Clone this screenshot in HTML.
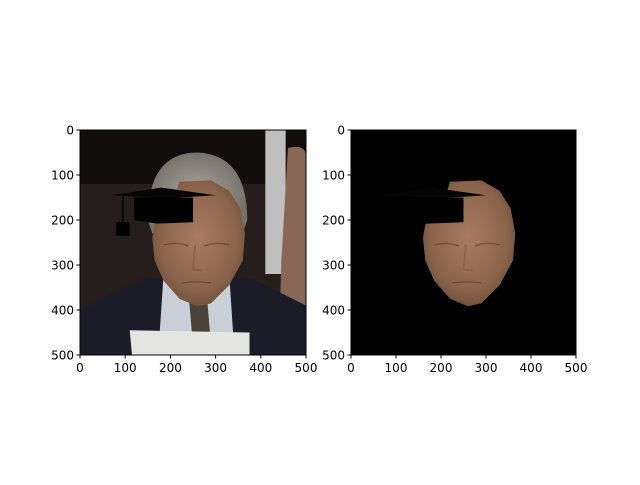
<!DOCTYPE html>
<html><head><meta charset="utf-8"><style>
body{margin:0;background:#fff;width:640px;height:480px;overflow:hidden;font-family:"Liberation Sans","DejaVu Sans",sans-serif}
text{font-family:"DejaVu Sans","Liberation Sans",sans-serif;font-size:12px;fill:#000}
</style></head><body>
<svg id="fig" width="640" height="480">
<defs>
<radialGradient id="skin" cx="0.5" cy="0.45" r="0.6"><stop offset="0" stop-color="#a87c60"/><stop offset="0.7" stop-color="#8a644a"/><stop offset="1" stop-color="#6a4a36"/></radialGradient>
<radialGradient id="hair" cx="0.5" cy="0.5" r="0.5"><stop offset="0" stop-color="#a8a49c"/><stop offset="1" stop-color="#76716b"/></radialGradient>
<g id="face">
<path d="M220,115 L290,112 L330,135 L355,175 L365,230 L360,290 L330,345 L290,385 L260,392 L220,375 L185,335 L165,290 L160,240 L165,210 L200,180 Z" fill="url(#skin)"/>
<path d="M185,255 Q215,248 240,258 M275,258 Q300,248 330,255" stroke="#5a3c2a" stroke-width="3" fill="none" opacity="0.6"/>
<path d="M225,340 Q258,335 290,340" stroke="#5a3828" stroke-width="3" fill="none" opacity="0.6"/>
<path d="M255,255 L250,310 L270,312" stroke="#7a5844" stroke-width="4" fill="none" opacity="0.5"/>
</g>
<g id="cap">
<polygon points="70,145 180,128 300,145 190,152" fill="#050505"/>
<polygon points="120,150 250,150 250,205 170,208 120,200" fill="#000"/>
<line x1="95" y1="145" x2="95" y2="215" stroke="#000" stroke-width="3"/>
<rect x="80" y="205" width="30" height="30" fill="#000"/>
</g>
</defs>
<g id="ax1">
<svg x="80" y="130" width="226" height="225" viewBox="0 0 500 500" preserveAspectRatio="none">
<rect width="500" height="500" fill="#261e1c"/>
<rect x="0" y="0" width="500" height="120" fill="#120e0e"/>
<rect x="410" y="0" width="45" height="320" fill="#bfbfbf"/>
<path d="M460,40 Q500,30 500,60 L500,500 L440,500 L445,300 Z" fill="#8a6656"/>
<path d="M0,400 L0,500 L500,500 L500,390 L380,330 L140,330 Z" fill="#1b1c27"/>
<polygon points="185,320 330,320 340,470 175,470" fill="#c8cfd6"/>
<polygon points="240,360 280,360 290,480 250,480" fill="#4a4438"/>
<path d="M150,200 Q150,50 260,50 Q370,55 370,200 L360,230 L160,230 Z" fill="url(#hair)"/>
<use href="#face"/>
<polygon points="110,445 375,450 375,500 115,500" fill="#e4e4e0"/>
<use href="#cap"/>
</svg>
<rect x="80" y="130" width="226" height="225" fill="none" stroke="#000" stroke-width="1"/>
</g>
<g id="ax2">
<svg x="351" y="130" width="225" height="225" viewBox="0 0 500 500" preserveAspectRatio="none">
<rect width="500" height="500" fill="#000"/>
<use href="#face"/>
<use href="#cap"/>
</svg>
<rect x="351" y="130" width="225" height="225" fill="none" stroke="#000" stroke-width="1"/>
</g>
<g id="ticks"></g>
</svg>
<script>
const ticks=[0,100,200,300,400,500];
const tickLabels=["0","100","200","300","400","500"];
const axes=[{x:80,y:130,w:226,h:225},{x:351,y:130,w:225,h:225}];
const g=document.getElementById('ticks');
const NS='http://www.w3.org/2000/svg';
function mk(t,a){const e=document.createElementNS(NS,t);for(const k in a)e.setAttribute(k,a[k]);g.appendChild(e);return e;}
axes.forEach((ax,i)=>{
 ticks.forEach((v,j)=>{
  const px=ax.x+v/500*ax.w, py=ax.y+v/500*ax.h;
  const l1=mk('line',{x1:px,y1:ax.y+ax.h,x2:px,y2:ax.y+ax.h+3.5,stroke:'#000'});
  
  
  const t1=mk('text',{x:px,y:ax.y+ax.h+17,'text-anchor':'middle'});t1.textContent=tickLabels[j];
  
  
  const l2=mk('line',{x1:ax.x-3.5,y1:py,x2:ax.x,y2:py,stroke:'#000'});
  
  
  const t2=mk('text',{x:ax.x-6,y:py+4.5,'text-anchor':'end'});t2.textContent=tickLabels[j];
  
  
 });
});
</script>
</body></html>
